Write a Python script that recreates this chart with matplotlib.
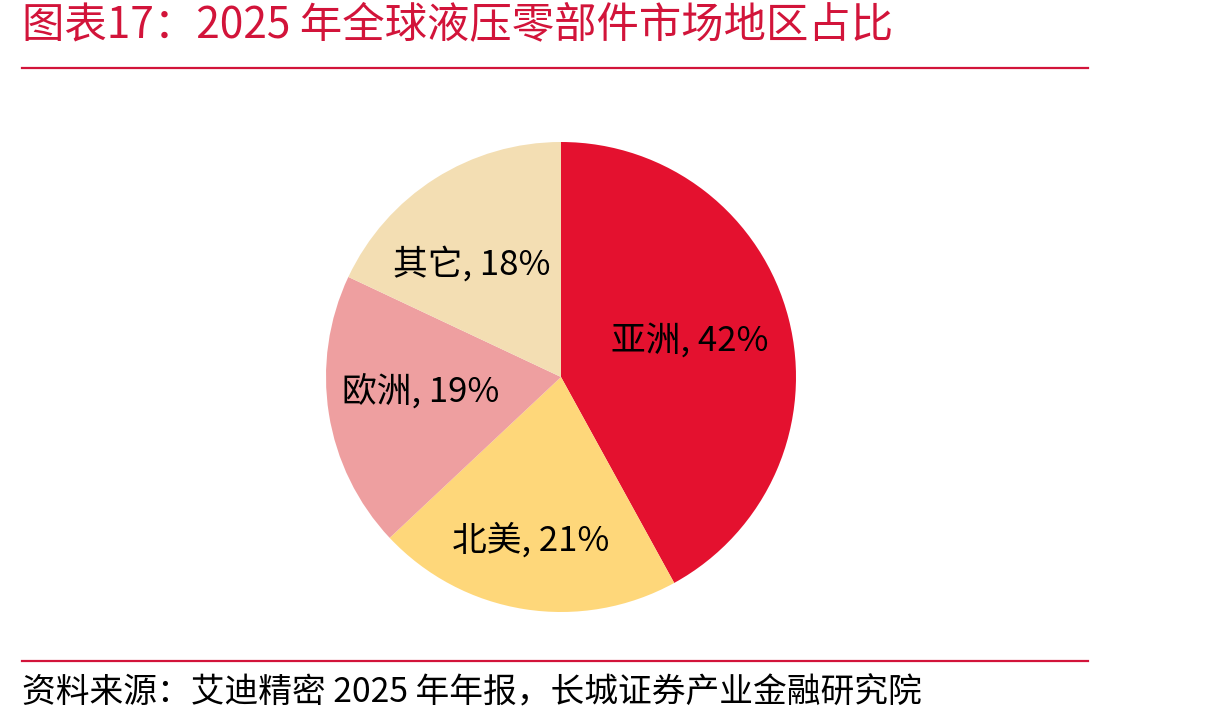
import matplotlib
matplotlib.use("Agg")
import matplotlib.pyplot as plt
import numpy as np

plt.rcParams['font.family'] = ['Noto Sans CJK SC', 'DejaVu Sans']

regions = ['亚洲', '北美', '欧洲', '其它']
shares = [42, 21, 19, 18]
colors = ['#E4112F', '#FED77A', '#EE9FA0', '#F3DEB3']
label_radius = [0.57, 0.71, 0.60, 0.61]
label_angle_shift = [1.0, -1.4, -3.0, 6.0]

title = '图表17：2025 年全球液压零部件市场地区占比'
source = '资料来源：艾迪精密 2025 年年报，长城证券产业金融研究院'

W, H = 1210, 725
fig = plt.figure(figsize=(W / 100, H / 100), dpi=100)

# title and rules
fig.text(22 / W, 1 - 25 / H, title, color='#D2143A', fontsize=30.5,
         va='center', ha='left', style='italic')
fig.add_artist(plt.Line2D([22 / W, 1088 / W], [1 - 68 / H, 1 - 68 / H],
                          color='#D2143A', lw=1.6))
fig.add_artist(plt.Line2D([22 / W, 1088 / W], [1 - 661 / H, 1 - 661 / H],
                          color='#D2143A', lw=1.6))
fig.text(22 / W, 1 - 693 / H, source, color='black', fontsize=24.3,
         va='center', ha='left', style='italic')

# pie
cx, cy, r = 561, 377, 235
ax = fig.add_axes([(cx - r) / W, (H - cy - r) / H, 2 * r / W, 2 * r / H])
wedges, _ = ax.pie(shares, colors=colors, startangle=90, counterclock=False,
                   radius=1.0, wedgeprops=dict(linewidth=0))
ax.set_xlim(-1, 1)
ax.set_ylim(-1, 1)
ax.axis('off')

for w, name, val, lr, sh in zip(wedges, regions, shares, label_radius, label_angle_shift):
    ang = np.deg2rad((w.theta1 + w.theta2) / 2 + sh)
    ax.text(lr * np.cos(ang), lr * np.sin(ang), f'{name}, {val}%',
            ha='center', va='center', fontsize=25, color='black')

fig.savefig('out.png', dpi=100)
